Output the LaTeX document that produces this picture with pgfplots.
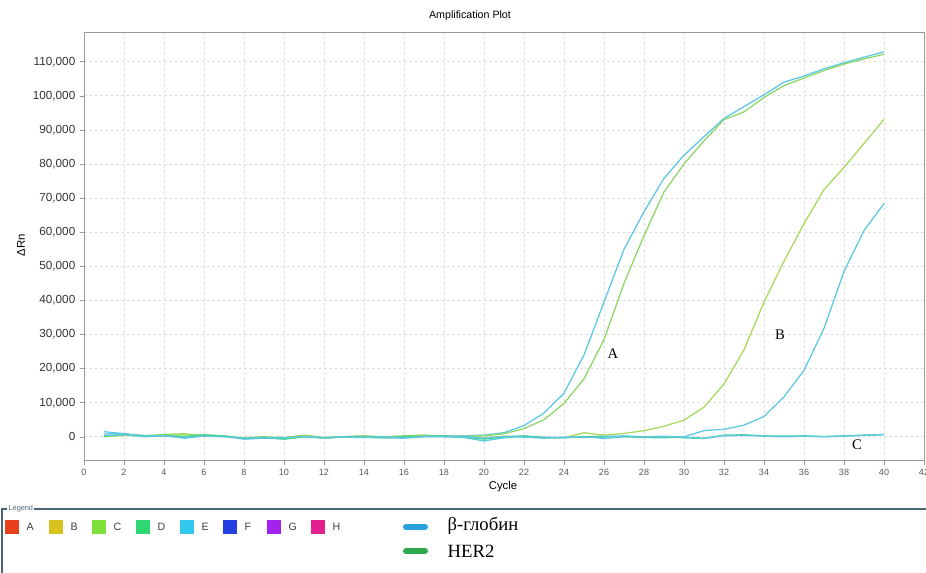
\documentclass[border=0pt]{standalone}
\usepackage{pgfplots}
\pgfplotsset{compat=1.18}
\usepackage{fontspec}
\setmainfont{Liberation Sans}
\newfontfamily\serif{Liberation Serif}
\definecolor{cblue}{HTML}{5CC8E4}
\definecolor{cgreen}{HTML}{8CD666}
\definecolor{clime}{HTML}{A6D85A}
\definecolor{cteal}{HTML}{48D48C}
\definecolor{gridc}{HTML}{DCDCDC}
\definecolor{framec}{HTML}{9A9A9A}
\definecolor{legline}{HTML}{4A6478}
\begin{document}
\begin{tikzpicture}
\useasboundingbox (0,0) rectangle (694.5pt,429.75pt);
\begin{axis}[
  at={(63pt,84.225pt)}, anchor=south west,
  scale only axis, width=630pt, height=321.5pt,
  xmin=0, xmax=42, ymin=-7000, ymax=118700,
  xtick={0,2,4,6,8,10,12,14,16,18,20,22,24,26,28,30,32,34,36,38,40,42},
  xticklabels={0,2,4,6,8,10,12,14,16,18,20,22,24,26,28,30,32,34,36,38,40,42},
  ytick={0,10000,20000,30000,40000,50000,60000,70000,80000,90000,100000,110000},
  yticklabels={0,{10,000},{20,000},{30,000},{40,000},{50,000},{60,000},{70,000},{80,000},{90,000},{100,000},{110,000}},
  tick pos=left, tick align=outside,
  major tick length=3pt,
  every tick/.style={draw=framec, thin},
  axis line style={draw=framec},
  grid=major,
  major grid style={draw=gridc, dash pattern=on 2pt off 2pt, line width=0.5pt},
  scaled y ticks=false,
  yticklabel style={font=\fontsize{8.8}{9}\selectfont, text=black!80},
  xticklabel style={font=\fontsize{6.8}{8}\selectfont, text=black!65},
  clip=false,
]
% A beta-globin
\addplot[cblue, line width=0.95pt] coordinates {
(1,1500)(2,900)(3,300)(4,500)(5,-300)(6,400)(7,200)(8,-500)(9,-200)(10,-400)
(11,200)(12,-300)(13,0)(14,100)(15,-100)(16,-200)(17,300)(18,200)(19,300)(20,500)
(21,1200)(22,3300)(23,7000)(24,12800)(25,24000)(26,39500)(27,55000)(28,66000)(29,75800)(30,82600)
(31,88000)(32,93400)(33,96800)(34,100300)(35,104000)(36,105800)(37,107900)(38,109700)(39,111300)(40,112900)};
% A HER2
\addplot[cgreen, line width=0.95pt] coordinates {
(1,300)(2,500)(3,200)(4,700)(5,900)(6,300)(7,100)(8,-300)(9,0)(10,-200)
(11,500)(12,-200)(13,100)(14,300)(15,0)(16,300)(17,500)(18,200)(19,100)(20,300)
(21,900)(22,2400)(23,5000)(24,9800)(25,17000)(26,28500)(27,45000)(28,59000)(29,71800)(30,80000)
(31,86800)(32,93000)(33,95300)(34,99500)(35,103000)(36,105200)(37,107400)(38,109300)(39,110800)(40,112200)};
% B HER2
\addplot[clime, line width=0.95pt] coordinates {
(1,0)(2,400)(3,300)(4,200)(5,600)(6,500)(7,200)(8,-600)(9,-300)(10,-300)
(11,300)(12,-400)(13,-100)(14,200)(15,-200)(16,-100)(17,400)(18,100)(19,200)(20,-300)
(21,200)(22,0)(23,-200)(24,-300)(25,1200)(26,500)(27,1000)(28,1800)(29,3100)(30,4900)
(31,8700)(32,15500)(33,25500)(34,39500)(35,51500)(36,62500)(37,72500)(38,79000)(39,86000)(40,93100)};
% B beta-globin
\addplot[cblue, line width=0.95pt] coordinates {
(1,800)(2,1000)(3,0)(4,300)(5,-200)(6,300)(7,300)(8,-700)(9,-400)(10,-600)
(11,0)(12,-200)(13,-100)(14,-200)(15,-300)(16,-400)(17,100)(18,0)(19,-200)(20,-1200)
(21,-300)(22,200)(23,-100)(24,-300)(25,100)(26,-500)(27,0)(28,-200)(29,-300)(30,0)
(31,1800)(32,2200)(33,3400)(34,6000)(35,11700)(36,19500)(37,31800)(38,48500)(39,60500)(40,68400)};
% C HER2
\addplot[cteal, line width=0.95pt] coordinates {
(1,200)(2,700)(3,400)(4,300)(5,100)(6,600)(7,300)(8,-400)(9,-100)(10,-700)
(11,0)(12,-300)(13,0)(14,0)(15,-300)(16,100)(17,200)(18,300)(19,0)(20,-700)
(21,0)(22,300)(23,-300)(24,-200)(25,0)(26,200)(27,100)(28,-100)(29,0)(30,-300)
(31,-500)(32,500)(33,600)(34,300)(35,200)(36,300)(37,100)(38,300)(39,500)(40,700)};
% C beta-globin
\addplot[cblue, line width=0.95pt] coordinates {
(1,400)(2,600)(3,100)(4,400)(5,-400)(6,200)(7,0)(8,-500)(9,-300)(10,-300)
(11,100)(12,-400)(13,0)(14,-100)(15,0)(16,-300)(17,0)(18,100)(19,100)(20,-400)
(21,100)(22,-100)(23,-400)(24,-100)(25,-200)(26,-100)(27,300)(28,0)(29,200)(30,-100)
(31,-400)(32,300)(33,400)(34,200)(35,0)(36,200)(37,0)(38,200)(39,400)(40,600)};
\node[font=\serif\fontsize{11}{12}\selectfont] at (axis cs:26.45,24500) {A};
\node[font=\serif\fontsize{11}{12}\selectfont] at (axis cs:34.8,30000) {B};
\node[font=\serif\fontsize{11}{12}\selectfont] at (axis cs:38.65,-2400) {C};
\end{axis}
\begin{scope}[x=0.75pt,y=0.75pt]
% titles
\node[font=\fontsize{8}{9}\selectfont] at (470,557) {Amplification Plot};
\node[font=\fontsize{8.5}{9}\selectfont] at (503,86) {Cycle};
\node[font=\fontsize{8.5}{9}\selectfont, rotate=90] at (21,328) {ΔRn};
% legend frame
\draw[legline, line width=0.8pt] (2,0) -- (2,64) -- (926,64);
\node[fill=white, inner sep=1pt, font=\fontsize{5.5}{6}\selectfont, text=legline, anchor=west] at (7,64) {Legend};
\foreach \c/\l/\xx in {E8401C/A/5, D8C21E/B/49, 7FE03C/C/92, 2FD873/D/136, 32C6EA/E/180, 2440E2/F/223, A422EE/G/267, E2208E/H/311}{
  \definecolor{tmp}{HTML}{\c}
  \fill[tmp] (\xx,39) rectangle (\xx+14,53);
  \node[anchor=west, font=\fontsize{8}{9}\selectfont, text=black!75] at (\xx+17,46) {\l};
}
\draw[color={rgb,255:red,40;green,160;blue,220}, line width=4.5pt, line cap=round] (406,46) -- (425,46);
\draw[color={rgb,255:red,45;green,170;blue,75}, line width=4.5pt, line cap=round] (406,22) -- (425,22);
\node[anchor=west, font=\serif\fontsize{14}{15}\selectfont] at (443,47) {β-глобин};
\node[anchor=west, font=\serif\fontsize{14}{15}\selectfont] at (443,22) {HER2};
\end{scope}
\end{tikzpicture}
\end{document}
